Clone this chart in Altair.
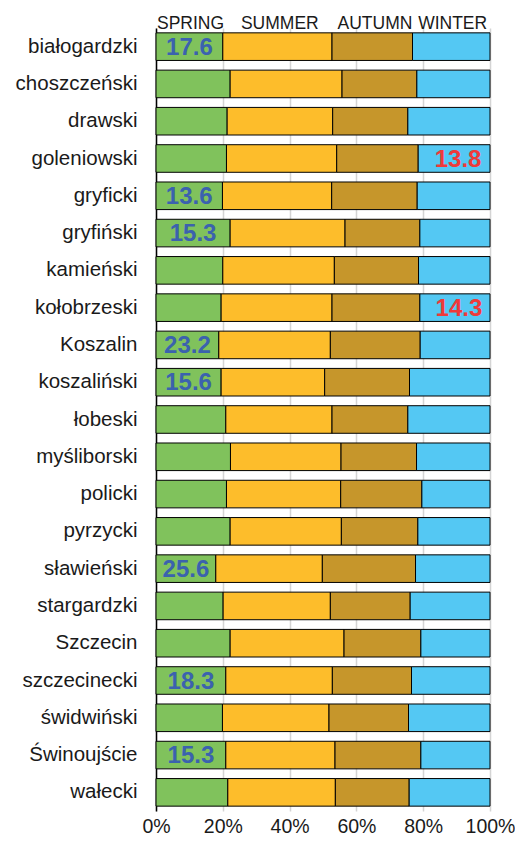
import altair as alt
import pandas as pd

counties = ["białogardzki", "choszczeński", "drawski", "goleniowski", "gryficki",
            "gryfiński", "kamieński", "kołobrzeski", "Koszalin", "koszaliński",
            "łobeski", "myśliborski", "policki", "pyrzycki", "sławieński",
            "stargardzki", "Szczecin", "szczecinecki", "świdwiński", "Świnoujście",
            "wałecki"]
seasons = ["SPRING", "SUMMER", "AUTUMN", "WINTER"]
spring = [20.0, 22.2, 21.3, 21.1, 19.9, 22.2, 20.0, 19.5, 18.8, 19.5, 20.9,
          22.3, 21.1, 22.2, 17.9, 20.1, 22.2, 20.9, 19.9, 20.9, 21.5]
summer = [32.7, 33.5, 31.6, 33.0, 32.7, 34.4, 33.4, 33.2, 33.4, 31.0, 31.8,
          33.1, 34.2, 33.3, 31.9, 32.1, 34.1, 31.9, 31.9, 32.7, 32.2]
autumn = [24.1, 22.4, 22.5, 24.4, 25.6, 22.4, 25.2, 26.3, 26.9, 25.4, 22.7,
          22.6, 24.3, 22.9, 27.9, 23.9, 23.0, 23.7, 23.8, 25.7, 22.1]
winter = [23.2, 21.9, 24.6, 21.5, 21.8, 21.0, 21.4, 21.0, 20.9, 24.1, 24.6,
          22.0, 20.4, 21.6, 22.3, 23.9, 20.7, 23.5, 24.4, 20.7, 24.2]
spring_labels = [17.6, None, None, None, 13.6, 15.3, None, None, 23.2, 15.6, None,
                 None, None, None, 25.6, None, None, 18.3, None, 15.3, None]
winter_labels = [None, None, None, 13.8, None, None, None, 14.3, None, None, None,
                 None, None, None, None, None, None, None, None, None, None]
colors = ["#80C25C", "#FDBD2B", "#C6962B", "#54C8F3"]

rows = []
for i, c in enumerate(counties):
    vals = [spring[i], summer[i], autumn[i], winter[i]]
    total = sum(vals)
    start = 0.0
    for j, s in enumerate(seasons):
        share = vals[j] / total * 100
        lab = spring_labels[i] if j == 0 else (winter_labels[i] if j == 3 else None)
        rows.append({"county": c, "season": s, "start": start, "end": start + share,
                     "label": lab})
        start += share
df = pd.DataFrame(rows)

FONT = "Liberation Sans"
ysc = alt.Scale(paddingInner=0.26, paddingOuter=0.13)

base = alt.Chart(df)

bars = base.mark_bar(stroke="black", strokeWidth=1).encode(
    y=alt.Y("county:N", sort=counties, scale=ysc, title=None),
    x=alt.X("start:Q", scale=alt.Scale(domain=[0, 100], nice=False), title=None,
            axis=alt.Axis(values=[0, 20, 40, 60, 80, 100],
                          labelExpr="datum.value + '%'")),
    x2="end:Q",
    color=alt.Color("season:N", scale=alt.Scale(domain=seasons, range=colors),
                    legend=None),
)

spring_text = base.transform_filter(
    "datum.season == 'SPRING' && isValid(datum.label)"
).transform_calculate(mid="(datum.start + datum.end) / 2").mark_text(
    font=FONT, fontSize=24, fontWeight="bold", color="#3B62AE", baseline="middle", dy=1
).encode(
    y=alt.Y("county:N", sort=counties, scale=ysc, title=None),
    x=alt.X("mid:Q", title=None),
    text=alt.Text("label:Q", format=".1f"),
)

winter_text = base.transform_filter(
    "datum.season == 'WINTER' && isValid(datum.label)"
).transform_calculate(mid="(datum.start + datum.end) / 2").mark_text(
    font=FONT, fontSize=24, fontWeight="bold", color="#EE3A3A", baseline="middle",
    dy=1, dx=4
).encode(
    y=alt.Y("county:N", sort=counties, scale=ysc, title=None),
    x=alt.X("mid:Q", title=None),
    text=alt.Text("label:Q", format=".1f"),
)

header = base.transform_calculate(
    mid="(datum.start + datum.end) / 2"
).transform_aggregate(
    mid="mean(mid)", groupby=["season"]
).mark_text(
    font=FONT, fontSize=17.5, color="#1a1a1a", baseline="alphabetic"
).encode(
    x=alt.X("mid:Q", title=None),
    y=alt.value(1),
    text="season:N",
)

chart = alt.layer(bars, spring_text, winter_text, header).properties(
    width=334, height=783,
    autosize=alt.AutoSizeParams(type="none"),
    padding={"left": 148, "top": 20, "right": 25, "bottom": 27},
).configure_view(stroke=None).configure_axisX(
    domain=False, ticks=False, grid=True, gridColor="#D4D4D4", gridWidth=1.5,
    labelFont=FONT, labelFontSize=19.5, labelColor="#1a1a1a", labelPadding=6,
    labelFlush=False, labelOverlap=False
).configure_axisY(
    domain=True, domainColor="black", domainWidth=1.5, ticks=False, grid=False,
    labelFont=FONT, labelFontSize=20.5, labelColor="#1a1a1a", labelPadding=19,
    labelLimit=300
)

chart.save("out.html", embed_options={"renderer": "svg", "actions": False})
